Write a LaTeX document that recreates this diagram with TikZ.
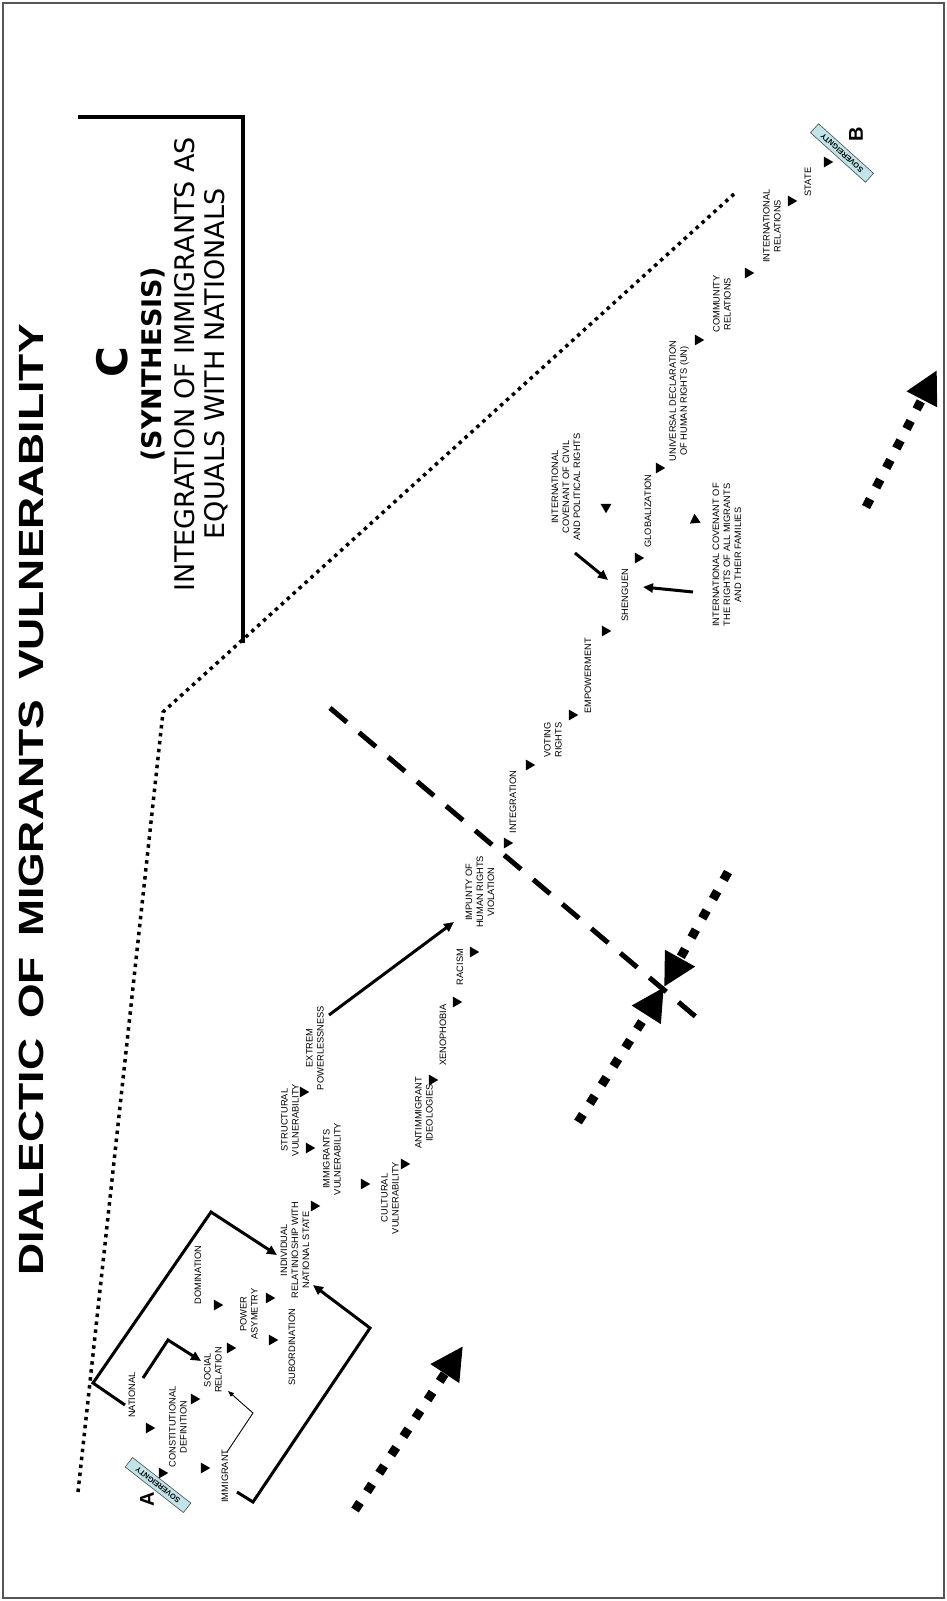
\documentclass[tikz,border=0pt]{standalone}
\usepackage{fontspec}
\setmainfont{Liberation Sans}
\newfontfamily\dejavu{DejaVu Sans}
\usetikzlibrary{arrows.meta,shapes.geometric}
\definecolor{sovfill}{RGB}{192,228,232}
\definecolor{framecol}{RGB}{85,85,85}
\begin{document}
\begin{tikzpicture}[x=1pt,y=-1pt,
  lbl/.style={font=\fontsize{9.3}{11}\selectfont, align=center, rotate=90, inner sep=0pt},
  tri/.style={regular polygon, regular polygon sides=3, fill=black, draw=none, inner sep=0pt, minimum size=12.5pt, rotate=30},
  conn/.style={line width=3pt, -{Triangle[length=10pt,width=9pt]}},
  thinconn/.style={line width=0.9pt, -{Triangle[length=6pt,width=4.5pt]}},
  bigdot/.style={line width=9pt, dash pattern=on 9pt off 13pt, -{Triangle[length=33pt,width=32pt]}},
  dotline/.style={line width=3.5pt, dash pattern=on 3.5pt off 4.5pt},
  longdash/.style={line width=5pt, dash pattern=on 22pt off 16pt},
  sov/.style={draw=black!70, line width=0.6pt, fill=sovfill, minimum width=74pt, minimum height=12pt, inner sep=0pt, font=\bfseries\fontsize{7.5}{8}\selectfont},
  bigletter/.style={font=\bfseries\fontsize{20}{20}\selectfont, rotate=90, inner sep=0pt}
]
\useasboundingbox (0,0) rectangle (947,1601);
\fill[white] (0,0) rectangle (947,1601);
\draw[framecol, line width=2.5pt] (3,3) rectangle (944,1598);

% title
\node[rotate=90, inner sep=0pt, font=\bfseries\fontsize{35}{35}\selectfont] (title) at (31,800)
  {\scalebox{1.27}[1]{DIALECTIC\hspace{0.45em}OF\hspace{0.45em}MIGRANTS\hspace{0.45em}VULNERABILITY}};

% synthesis block
\coordinate (cb1) at (78,117); \coordinate (cb2) at (243,117); \coordinate (cb3) at (243,643);
\draw[line width=4pt] (cb1) -- (cb2) -- (cb3);
\node[rotate=90, inner sep=0pt, font=\dejavu\bfseries\fontsize{42}{42}\selectfont] (C) at (112,362) {C};
\node[rotate=90, inner sep=0pt, font=\dejavu\bfseries\fontsize{27}{30}\selectfont] (synth) at (153,364) {(SYNTHESIS)};
\node[rotate=90, inner sep=0pt, align=center, font=\dejavu\fontsize{27}{30}\selectfont] (integ) at (201,364) {INTEGRATION OF IMMIGRANTS AS\\EQUALS WITH NATIONALS};

% dotted boundary
\coordinate (d1) at (734,194); \coordinate (d2) at (163,712); \coordinate (d3) at (78,1492);
\draw[dotline] (d1) -- (d2) -- (d3);

% long dashed line
\coordinate (ld1) at (330,708); \coordinate (ld2) at (702,1022);
\draw[longdash] (ld1) -- (ld2);

% big dotted arrows
\coordinate (aT) at (355,1510); \coordinate (aH) at (463,1346);
\draw[bigdot] (aT) -- (aH);
\coordinate (bT1) at (578,1122); \coordinate (bT2) at (728,872); \coordinate (bH) at (664,987);
\draw[bigdot] (bT1) -- (bH);
\draw[bigdot] (bT2) -- (bH);
\coordinate (cT) at (866,507); \coordinate (cH) at (937,370);
\draw[bigdot] (cT) -- (cH);

% A and B
\node[bigletter] (A) at (147,1499) {A};
\node[sov, rotate=142] (sovA) at (158,1485) {SOVEREIGNTY};
\node[bigletter] (B) at (856,134) {B};
\node[sov, rotate=138] (sovB) at (842,153) {SOVEREIGNTY};

% labels
\node[lbl] (nat) at (132,1395) {NATIONAL};
\node[lbl] (const) at (178,1427) {CONSTITUTIONAL\\DEFINITION};
\node[lbl] (immi) at (225,1476) {IMMIGRANT};
\node[lbl] (soc) at (213,1370) {SOCIAL\\RELATION};
\node[lbl] (pow) at (249,1314) {POWER\\ASYMETRY};
\node[lbl] (dom) at (198,1275) {DOMINATION};
\node[lbl] (sub) at (292,1347) {SUBORDINATION};
\node[lbl] (ind) at (295,1250) {INDIVIDUAL\\RELATINIOSHIP WITH\\NATIONAL STATE};
\node[lbl] (ivul) at (332,1159) {IMMIGRANTS\\VULNERABILITY};
\node[lbl] (svul) at (290,1120) {STRUCTURAL\\VULNERABILITY};
\node[lbl] (cvul) at (390,1198) {CULTURAL\\VULNERABILITY};
\node[lbl] (ext) at (315,1048) {EXTREM\\POWERLESSNESS};
\node[lbl] (anti) at (424,1113) {ANTIMMIGRANT\\IDEOLOGIES};
\node[lbl] (xen) at (443,1035) {XENOPHOBIA};
\node[lbl] (rac) at (460,967) {RACISM};
\node[lbl] (imp) at (480,892) {IMPUNTY OF\\HUMAN RIGHTS\\VIOLATION};
\node[lbl] (intg) at (513,802) {INTEGRATION};
\node[lbl] (vot) at (553,740) {VOTING\\RIGHTS};
\node[lbl] (emp) at (588,676) {EMPOWERMENT};
\node[lbl] (sheng) at (625,595) {SHENGUEN};
\node[lbl] (iccpr) at (566,487) {INTERNATIONAL\\COVENANT OF CIVIL\\AND POLITICAL RIGHTS};
\node[lbl] (glob) at (648,511) {GLOBALIZATION};
\node[lbl] (icmw) at (727,555) {INTERNATIONAL COVENANT OF\\THE RIGHTS OF ALL MIGRANTS\\AND THEIR FAMILIES};
\node[lbl] (udhr) at (679,401) {UNIVERSAL DECLARATION\\OF HUMAN RIGHTS (UN)};
\node[lbl] (comm) at (722,304) {COMMUNITY\\RELATIONS};
\node[lbl] (intr) at (772,226) {INTERNATIONAL\\RELATIONS};
\node[lbl] (state) at (808,182) {STATE};

% triangles
\foreach \n/\x/\y in {t1/149/1428, t2/162/1473, t3/204/1468, t4/194/1399, t5/230/1348,
  t6/217/1305, t7/269/1298, t8/272/1340, t9/314/1206, t10/309/1148, t11/303/1092,
  t12/364/1184, t13/404/1164, t14/432/1080, t15/456/1002, t16/473/952, t17/507/843,
  t18/529/765, t19/572/715, t20/605/631, t21/638/558, t23/659/468,
  t25/698/340, t26/748/273, t27/791/201, t28/827/162}
  \node[tri] (\n) at (\x,\y) {};
\node[tri, rotate=150] (t22) at (606,507) {};
\node[tri, rotate=-25] (t24) at (695,520) {};

% connectors
\coordinate (natS) at (125,1405); \coordinate (k1) at (93,1383); \coordinate (k2) at (211,1212); \coordinate (indA) at (277,1255);
\draw[conn] (natS) -- (k1) -- (k2) -- (indA);
\coordinate (immS) at (237,1492); \coordinate (k3) at (253,1502); \coordinate (k4) at (370,1328); \coordinate (indB) at (313,1285);
\draw[conn] (immS) -- (k3) -- (k4) -- (indB);
\coordinate (natT) at (143,1378); \coordinate (k5) at (168,1340); \coordinate (socA) at (201,1361);
\draw[conn] (natT) -- (k5) -- (socA);
\coordinate (immT) at (227,1452); \coordinate (k6) at (253,1413); \coordinate (socB) at (228,1391);
\draw[thinconn] (immT) -- (k6) -- (socB);
\coordinate (extS) at (329,1015); \coordinate (impA) at (454,922);
\draw[conn] (extS) -- (impA);
\coordinate (iccS) at (575,553); \coordinate (shA) at (608,580);
\draw[conn] (iccS) -- (shA);
\coordinate (icmS) at (693,592); \coordinate (shB) at (643,587);
\draw[conn] (icmS) -- (shB);
\end{tikzpicture}
\end{document}
